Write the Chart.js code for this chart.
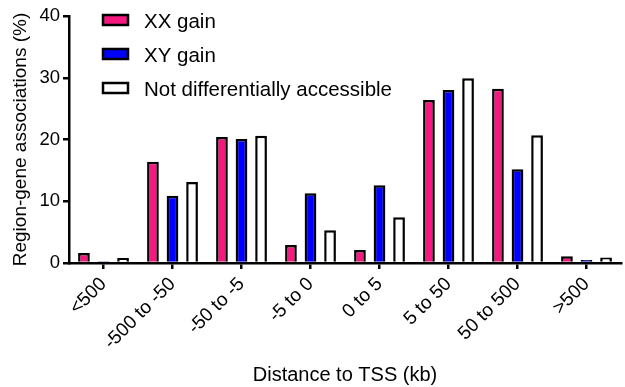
<!DOCTYPE html>
<html>
<head>
<meta charset="utf-8">
<script src="https://cdn.jsdelivr.net/npm/chart.js@4"></script>
<style>
  html, body { margin: 0; padding: 0; background: #fff; }
  #wrap { position: relative; width: 625px; height: 387px; }
</style>
</head>
<body>
<div id="wrap"><canvas id="tssChart"></canvas></div>
<script>
const categories = ['<500', '-500 to -50', '-50 to -5', '-5 to 0', '0 to 5', '5 to 50', '50 to 500', '>500'];
const xxGain = [1.6, 16.4, 20.4, 2.9, 2.1, 26.4, 28.2, 1.1];
const xyGain = [0.3, 10.9, 20.1, 11.3, 12.6, 28.0, 15.2, 0.5];
const notDiff = [0.8, 13.1, 20.6, 5.3, 7.4, 29.9, 20.7, 0.9];
const yTicks = [0, 10, 20, 30, 40];

const fontFamily = '"Liberation Sans", Arial, sans-serif';

// legend drawn inside the plot, top left
const insideLegend = {
    id: 'insideLegend',
    afterDraw(chart) {
        const ctx = chart.ctx;
        const area = chart.chartArea;
        ctx.save();
        ctx.font = '20.5px ' + fontFamily;
        ctx.textBaseline = 'middle';
        chart.data.datasets.forEach(function(ds, i) {
            const x = area.left + 34;
            const y = area.top + 4 + i * 34;
            ctx.fillStyle = ds.backgroundColor;
            ctx.strokeStyle = '#000';
            ctx.lineWidth = 2.5;
            ctx.fillRect(x, y - 5, 25, 10);
            ctx.strokeRect(x, y - 5, 25, 10);
            ctx.fillStyle = '#000';
            ctx.fillText(ds.label, x + 41, y + 2);
        });
        ctx.restore();
    }
};

const barStyle = {
    borderColor: '#000',
    borderWidth: 2.5,
    categoryPercentage: 0.85,
    barPercentage: 0.6
};

new Chart(document.getElementById('tssChart').getContext('2d'), {
    type: 'bar',
    data: {
        labels: categories,
        datasets: [
            Object.assign({ label: 'XX gain', data: xxGain, backgroundColor: '#F5187E' }, barStyle),
            Object.assign({ label: 'XY gain', data: xyGain, backgroundColor: '#0000FF' }, barStyle),
            Object.assign({ label: 'Not differentially accessible', data: notDiff, backgroundColor: '#FFFFFF' }, barStyle)
        ]
    },
    options: {
        responsive: true,
        maintainAspectRatio: false,
        animation: false,
        layout: { padding: { top: 16, right: 4, left: 4, bottom: 0 } },
        plugins: {
            legend: { display: false },
            tooltip: { enabled: false }
        },
        scales: {
            x: {
                afterFit(axis) { axis.height = 124; },
                grid: {
                    offset: false,
                    drawOnChartArea: false,
                    drawTicks: true,
                    tickLength: 6,
                    color: '#000',
                    lineWidth: 2.5
                },
                border: { display: true, color: '#000', width: 2.5 },
                ticks: {
                    color: '#000',
                    font: { family: fontFamily, size: 19 },
                    maxRotation: 45,
                    minRotation: 45,
                    padding: 4
                },
                title: {
                    display: true,
                    text: 'Distance to TSS (kb)',
                    color: '#000',
                    font: { family: fontFamily, size: 20 },
                    padding: { top: 0, bottom: 0 }
                }
            },
            y: {
                min: 0,
                max: 40,
                afterFit(axis) { axis.width = 65; },
                afterBuildTicks(axis) {
                    axis.ticks = yTicks.map(function(v) { return { value: v }; });
                },
                grid: {
                    drawOnChartArea: false,
                    drawTicks: true,
                    tickLength: 6,
                    color: '#000',
                    lineWidth: 2.5
                },
                border: { display: true, color: '#000', width: 2.5 },
                ticks: {
                    color: '#000',
                    font: { family: fontFamily, size: 18.5 },
                    padding: 3
                },
                title: {
                    display: true,
                    text: 'Region-gene associations (%)',
                    color: '#000',
                    font: { family: fontFamily, size: 19 },
                    padding: { top: 5, bottom: 0 }
                }
            }
        }
    },
    plugins: [insideLegend]
});
</script>
</body>
</html>
